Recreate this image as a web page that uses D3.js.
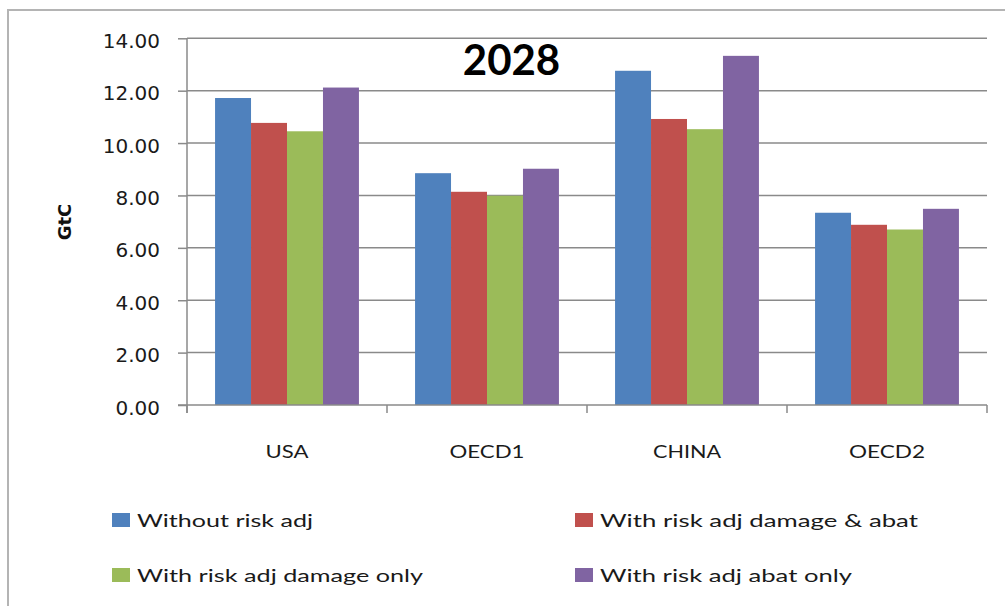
<!DOCTYPE html>
<html>
<head>
<meta charset="utf-8">
<script src="https://cdn.jsdelivr.net/npm/d3@7"></script>
<style>
  html, body { margin: 0; padding: 0; background: #fff; }
  svg { display: block; }
</style>
</head>
<body>
<svg id="chart" width="1005" height="606"></svg>
<script>
// Emissions by region in 2028 (GtC) under four risk-adjustment cases
const title = "2028";
const yLabel = "GtC";
const categories = ["USA", "OECD1", "CHINA", "OECD2"];
const seriesNames = [
  "Without risk adj",
  "With risk adj damage & abat",
  "With risk adj damage only",
  "With risk adj abat only"
];
const withoutRiskAdj      = [11.72, 8.85, 12.76, 7.34];
const riskAdjDamageAbat   = [10.77, 8.14, 10.92, 6.88];
const riskAdjDamageOnly   = [10.45, 7.99, 10.53, 6.70];
const riskAdjAbatOnly     = [12.12, 9.02, 13.33, 7.49];
const yTicks = [0, 2, 4, 6, 8, 10, 12, 14];

const seriesValues = [withoutRiskAdj, riskAdjDamageAbat, riskAdjDamageOnly, riskAdjAbatOnly];
const colors = ["#4f81bd", "#c0504d", "#9bbb59", "#8064a2"];

const svg = d3.select("#chart");

// chart frame
svg.append("rect")
  .attr("x", 8).attr("y", 10)
  .attr("width", 1010).attr("height", 610)
  .attr("fill", "#fff")
  .attr("stroke", "#b4b4b4")
  .attr("stroke-width", 2);

const plot = { left: 187, right: 987, top: 38.3, bottom: 405 };

const y = d3.scaleLinear().domain([0, 14]).range([plot.bottom, plot.top]);
const x0 = d3.scaleBand().domain(categories).range([plot.left, plot.right]);
const x1 = d3.scaleBand().domain(d3.range(seriesNames.length))
  .range([0, x0.bandwidth()]).paddingInner(0).paddingOuter(0.78);

// horizontal gridlines
svg.append("g").selectAll("line")
  .data(yTicks.filter(d => d > 0))
  .join("line")
  .attr("x1", plot.left).attr("x2", plot.right)
  .attr("y1", d => y(d)).attr("y2", d => y(d))
  .attr("stroke", "#8a8a8a").attr("stroke-width", 1.5);

// y axis
const yAxis = svg.append("g")
  .attr("transform", `translate(${plot.left},0)`)
  .call(d3.axisLeft(y).tickValues(yTicks).tickFormat(d3.format(".2f"))
    .tickSize(9).tickPadding(18));
yAxis.select(".domain").remove();
yAxis.selectAll(".tick line").attr("stroke", "#8a8a8a").attr("stroke-width", 1.5);
yAxis.selectAll(".tick text")
  .attr("font-family", "DejaVu Sans")
  .attr("font-size", 20)
  .attr("fill", "#1a1a1a")
  .attr("dy", "0.45em");

// bars
const groups = svg.append("g").selectAll("g")
  .data(categories)
  .join("g")
  .attr("transform", c => `translate(${x0(c)},0)`);

groups.selectAll("rect")
  .data((c, ci) => seriesValues.map((vals, si) => ({ si, v: vals[ci] })))
  .join("rect")
  .attr("x", d => x1(d.si))
  .attr("width", x1.bandwidth())
  .attr("y", d => y(d.v))
  .attr("height", d => y(0) - y(d.v))
  .attr("fill", d => colors[d.si]);

// axis lines
svg.append("line")
  .attr("x1", plot.left).attr("x2", plot.left)
  .attr("y1", plot.top).attr("y2", plot.bottom + 8)
  .attr("stroke", "#8a8a8a").attr("stroke-width", 1.5);
svg.append("line")
  .attr("x1", plot.left - 9).attr("x2", plot.right)
  .attr("y1", plot.bottom).attr("y2", plot.bottom)
  .attr("stroke", "#8a8a8a").attr("stroke-width", 1.5);

// category boundary ticks
const boundaries = categories.map(c => x0(c)).concat([x0.range()[1]]);
svg.append("g").selectAll("line")
  .data(boundaries)
  .join("line")
  .attr("x1", d => d).attr("x2", d => d)
  .attr("y1", plot.bottom).attr("y2", plot.bottom + 8)
  .attr("stroke", "#8a8a8a").attr("stroke-width", 1.5);

// category labels
const catWidths = [43, 75, 68, 76];
svg.append("g").selectAll("text")
  .data(categories)
  .join("text")
  .attr("x", (c, i) => x0(c) + x0.bandwidth() / 2 - catWidths[i] / 2)
  .attr("y", 458)
  .attr("font-family", "Lato")
  .attr("font-size", 18)
  .attr("fill", "#1a1a1a")
  .attr("textLength", (c, i) => catWidths[i])
  .attr("lengthAdjust", "spacingAndGlyphs")
  .text(c => c);

// title
svg.append("text")
  .attr("x", 511.5).attr("y", 75)
  .attr("text-anchor", "middle")
  .attr("font-family", "Lato")
  .attr("font-weight", "bold")
  .attr("font-size", 42)
  .attr("fill", "#000")
  .text(title);

// y label
svg.append("text")
  .attr("transform", "translate(71,222) rotate(-90)")
  .attr("text-anchor", "middle")
  .attr("font-family", "DejaVu Sans")
  .attr("font-weight", "bold")
  .attr("font-size", 18)
  .attr("fill", "#111")
  .text(yLabel);

// legend
const legendPos = [
  { x: 112, y: 513, w: 176 },
  { x: 575, y: 513, w: 318 },
  { x: 112, y: 568, w: 286 },
  { x: 575, y: 568, w: 252 }
];
const legend = svg.append("g").selectAll("g")
  .data(seriesNames)
  .join("g")
  .attr("transform", (d, i) => `translate(${legendPos[i].x},${legendPos[i].y})`);
legend.append("rect")
  .attr("width", 18).attr("height", 14)
  .attr("fill", (d, i) => colors[i]);
legend.append("text")
  .attr("x", 25).attr("y", 14)
  .attr("font-family", "Lato")
  .attr("font-size", 18)
  .attr("fill", "#1a1a1a")
  .attr("textLength", (d, i) => legendPos[i].w)
  .attr("lengthAdjust", "spacingAndGlyphs")
  .text(d => d);
</script>
</body>
</html>
